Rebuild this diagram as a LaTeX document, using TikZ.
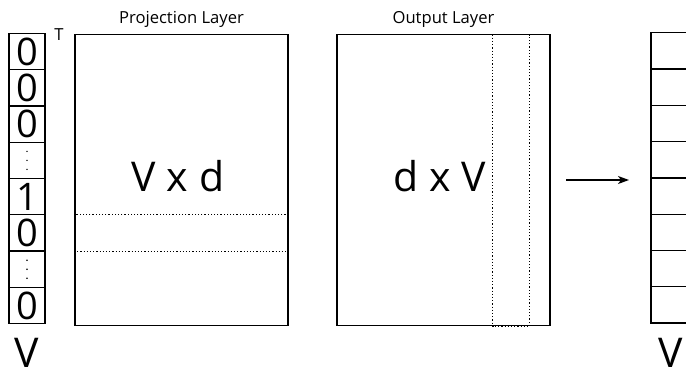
\documentclass[tikz,border=0pt]{standalone}
\usepackage{fontspec}
\setmainfont{Open Sans}
\usetikzlibrary{arrows.meta, positioning}
\tikzset{
  cell/.style      = {draw, line width=1.3pt, minimum width=36pt, minimum height=36.3pt,
                      inner sep=0pt, outer sep=0pt, font=\fontsize{38}{38}\selectfont},
  layerbox/.style  = {draw, line width=1.3pt, minimum width=213pt, minimum height=291pt,
                      inner sep=0pt, outer sep=0pt},
  band/.style      = {line width=1.2pt, dash pattern=on 1.2pt off 2pt},
  lbl/.style       = {font=\fontsize{16.6}{16.6}\selectfont},
  biglbl/.style    = {font=\fontsize{41}{41}\selectfont, anchor=base, inner sep=0pt},
  vdot/.style      = {circle, fill=black, inner sep=0pt, minimum size=1.7pt},
  flow/.style      = {-{Stealth[length=11pt, width=8pt, inset=3pt]}, line width=1.3pt},
}
\begin{document}
\begin{tikzpicture}[x=1pt, y=-1pt, node distance=0pt]
  \useasboundingbox (0,0) rectangle (686,375);
  \clip (0,0) rectangle (686,375);

  % one-hot input column
  \node[cell, anchor=north] (in0) at (27,33.3) {0};
  \node[cell, below=of in0] (in1) {0};
  \node[cell, below=of in1] (in2) {0};
  \node[cell, below=of in2] (in3) {};
  \node[cell, below=of in3] (in4) {1};
  \node[cell, below=of in4] (in5) {0};
  \node[cell, below=of in5] (in6) {};
  \node[cell, below=of in6] (in7) {0};
  \foreach \c in {in3, in6}
    \foreach \dy in {-9, 0, 9}
      \node[vdot] at ([yshift=\dy pt]\c.center) {};
  \node[lbl, anchor=base] (trans) at (59,40) {T};
  \node[biglbl] (vin) at (27,367) {V};

  % projection layer
  \node[layerbox, anchor=north west] (proj) at (75,34.5) {};
  \node[lbl, anchor=base] (projlbl) at ([yshift=11.2pt]proj.north) {Projection Layer};
  \node[biglbl] (projdim) at (178,191) {V x d};
  \draw[band] (proj.west |- in5.north) rectangle (proj.east |- in5.south);

  % output layer
  \node[layerbox, anchor=north west] (out) at (337,34.5) {};
  \node[lbl, anchor=base] (outlbl) at ([yshift=11.2pt]out.north) {Output Layer};
  \node[biglbl] (outdim) at (440,191) {d x V};
  \draw[band] (492.5,34.5) rectangle (529.5,326.5);

  % result column
  \node[cell, anchor=north west] (res0) at (651,32.7) {};
  \foreach \i [remember=\i as \j (initially 0)] in {1,...,7}
    \node[cell, below=of res\j] (res\i) {};
  \node[biglbl] (vout) at (671,367) {V};

  \draw[flow, shorten <=16pt, shorten >=22pt] (out.east |- 0,180) -- (res0.west |- 0,180);
\end{tikzpicture}
\end{document}
